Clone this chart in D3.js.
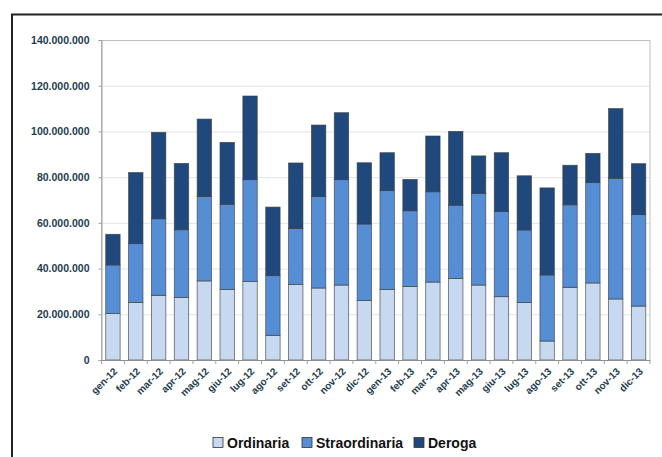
<!DOCTYPE html>
<html>
<head>
<meta charset="utf-8">
<script src="https://cdn.jsdelivr.net/npm/d3@7/dist/d3.min.js"></script>
<style>
  html, body { margin: 0; padding: 0; background: #fff; }
  svg { display: block; }
  text { font-family: "Liberation Sans", Arial, sans-serif; font-weight: bold; }
</style>
</head>
<body>
<svg id="chart" width="662" height="457"></svg>
<script>
// Monthly categories
const months = ["gen-12","feb-12","mar-12","apr-12","mag-12","giu-12","lug-12","ago-12","set-12","ott-12","nov-12","dic-12",
                "gen-13","feb-13","mar-13","apr-13","mag-13","giu-13","lug-13","ago-13","set-13","ott-13","nov-13","dic-13"];

// Series values (euro)
const ordinaria = [20300000,25200000,28300000,27400000,34600000,30900000,34400000,10800000,33100000,31500000,32800000,26000000,
                   30900000,32200000,34100000,35700000,32800000,27700000,25200000,8300000,31800000,33700000,26700000,23600000];
const straordinaria = [21300000,25700000,33500000,29600000,36900000,37200000,44500000,26100000,24400000,40000000,46100000,33500000,
                       43200000,33100000,39500000,32000000,40100000,37300000,31700000,28900000,36100000,43900000,52800000,40000000];
const deroga = [13400000,31100000,37800000,29000000,33900000,27100000,36600000,30000000,28700000,31300000,29300000,26800000,
                16600000,13700000,24400000,32300000,16400000,25700000,23700000,38100000,17300000,12800000,30500000,22300000];

const seriesNames = ["Ordinaria","Straordinaria","Deroga"];
const seriesColors = ["#c6d9f0","#558ed5","#1f497d"];
const yTicks = [0,20000000,40000000,60000000,80000000,100000000,120000000,140000000];

const svg = d3.select("#chart");
const labelColor = "#1d3d4d";

// Outer frame (top and left edges visible)
svg.append("line").attr("x1",11).attr("x2",662).attr("y1",14.5).attr("y2",14.5)
   .attr("stroke","#222").attr("stroke-width",2);
svg.append("line").attr("x1",12).attr("x2",12).attr("y1",14).attr("y2",457)
   .attr("stroke","#222").attr("stroke-width",2);

const plot = {left:101.5, top:40, right:650, bottom:360};

const x = d3.scaleBand().domain(months).range([plot.left, plot.right]).paddingInner(0.37).paddingOuter(0.185);
const y = d3.scaleLinear().domain([0,140000000]).range([plot.bottom, plot.top]);

// Grid lines
svg.append("g").selectAll("line").data(yTicks.slice(1,-1)).join("line")
  .attr("x1",plot.left).attr("x2",plot.right)
  .attr("y1",d=>y(d)+0.5).attr("y2",d=>y(d)+0.5)
  .attr("stroke","#e4e4e4").attr("stroke-width",1);

// Plot area border
svg.append("rect").attr("x",plot.left).attr("y",plot.top+0.5)
  .attr("width",plot.right-plot.left).attr("height",plot.bottom-plot.top)
  .attr("fill","none").attr("stroke","#c0c0c0").attr("stroke-width",1);

// Stacked data
const rows = months.map((m,i)=>({month:m, Ordinaria:ordinaria[i], Straordinaria:straordinaria[i], Deroga:deroga[i]}));
const stacked = d3.stack().keys(seriesNames)(rows);

svg.append("g").selectAll("g").data(stacked).join("g")
  .attr("fill",(d,i)=>seriesColors[i])
  .selectAll("rect").data(d=>d).join("rect")
  .attr("x",d=>x(d.data.month))
  .attr("y",d=>y(d[1]))
  .attr("width",x.bandwidth())
  .attr("height",d=>y(d[0])-y(d[1]))
  .attr("stroke","#3a3a3a").attr("stroke-width",0.8).attr("stroke-opacity",0.75);

// Y axis
const yAxis = d3.axisLeft(y).tickValues(yTicks).tickSize(3).tickPadding(9)
  .tickFormat(d=>d3.format(",")(d).replace(/,/g,"."));
const yg = svg.append("g").attr("transform",`translate(${plot.left},0)`).call(yAxis);
yg.select(".domain").attr("stroke","#a0a0a0");
yg.selectAll(".tick line").attr("stroke","#a0a0a0");
yg.selectAll("text").attr("fill",labelColor).attr("font-size","10.5px")
  .attr("font-family","'Liberation Sans', Arial, sans-serif").attr("font-weight","bold");

// X axis line and boundary ticks
svg.append("line").attr("x1",plot.left).attr("x2",plot.right)
  .attr("y1",plot.bottom+0.5).attr("y2",plot.bottom+0.5).attr("stroke","#8c8c8c").attr("stroke-width",1.2);
const step = x.step();
svg.append("g").selectAll("line").data(d3.range(months.length+1)).join("line")
  .attr("x1",i=>plot.left+i*(plot.right-plot.left)/months.length)
  .attr("x2",i=>plot.left+i*(plot.right-plot.left)/months.length)
  .attr("y1",plot.bottom).attr("y2",plot.bottom+4)
  .attr("stroke","#a0a0a0");

// X labels rotated
svg.append("g").selectAll("text").data(months).join("text")
  .attr("transform",d=>`translate(${x(d)+x.bandwidth()/2+5},${plot.bottom+12}) rotate(-45)`)
  .attr("text-anchor","end")
  .attr("fill",labelColor).attr("font-size","10px")
  .text(d=>d);

// Legend
const legendItems = [
  {name:"Ordinaria", x:213},
  {name:"Straordinaria", x:302},
  {name:"Deroga", x:414}
];
const lg = svg.append("g");
legendItems.forEach((it,i)=>{
  lg.append("rect").attr("x",it.x).attr("y",437.5).attr("width",10).attr("height",10)
    .attr("fill",seriesColors[i]).attr("stroke","#333").attr("stroke-width",0.8);
  lg.append("text").attr("x",it.x+14).attr("y",448).attr("font-size","14px")
    .attr("fill","#111").text(it.name);
});
</script>
</body>
</html>
